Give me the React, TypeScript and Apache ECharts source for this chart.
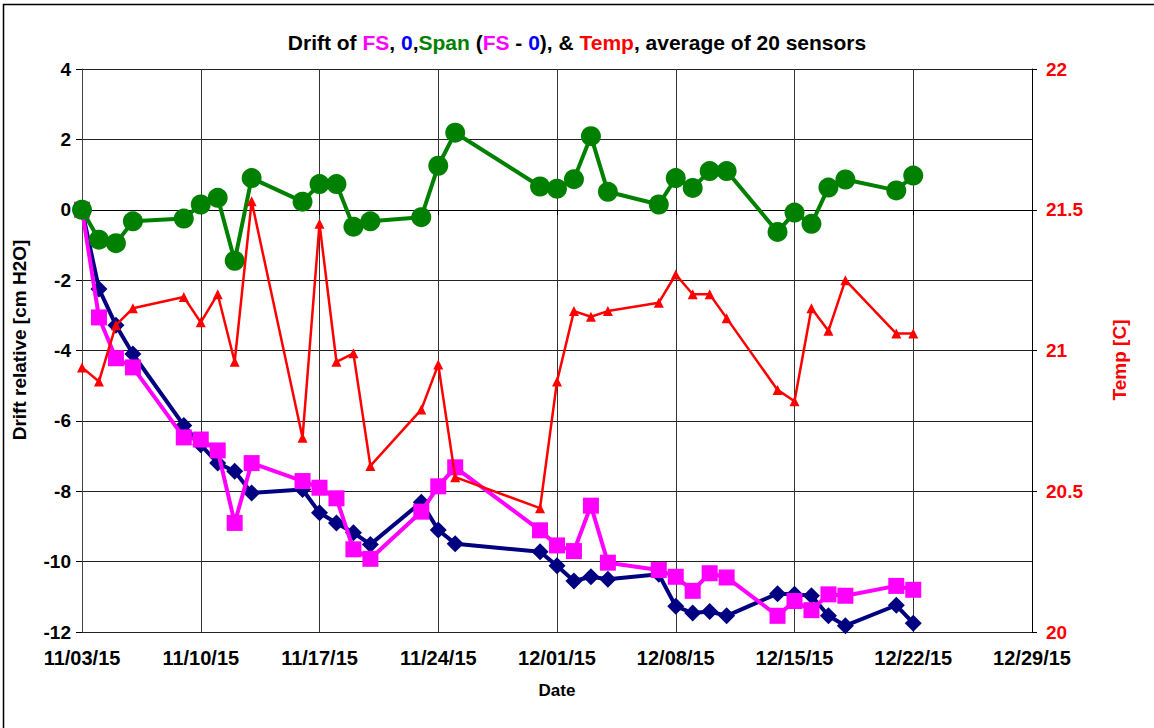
import React, { useEffect, useRef } from "react";
import * as echarts from "echarts";

const dates = [
  "11/03/15", "11/04/15", "11/05/15", "11/06/15", "11/09/15", "11/10/15", "11/11/15", "11/12/15", "11/13/15",
  "11/16/15", "11/17/15", "11/18/15", "11/19/15", "11/20/15", "11/23/15", "11/24/15", "11/25/15",
  "11/30/15", "12/01/15", "12/02/15", "12/03/15", "12/04/15", "12/07/15", "12/08/15", "12/09/15",
  "12/10/15", "12/11/15", "12/14/15", "12/15/15", "12/16/15", "12/17/15", "12/18/15", "12/21/15", "12/22/15",
];

const zeroDrift = [
  0, -2.25, -3.28, -4.1, -6.13, -6.68, -7.2, -7.43, -8.05, -7.95, -8.61, -8.9, -9.18, -9.51, -8.31, -9.1, -9.49,
  -9.72, -10.12, -10.55, -10.43, -10.5, -10.36, -11.27, -11.46, -11.42, -11.54, -10.91, -10.93, -10.97, -11.54,
  -11.82, -11.24, -11.75,
];

const fsDrift = [
  0, -3.06, -4.22, -4.48, -6.47, -6.53, -6.84, -8.9, -7.2, -7.71, -7.9, -8.2, -9.65, -9.92, -8.58, -7.86, -7.32,
  -9.11, -9.54, -9.7, -8.41, -10.03, -10.24, -10.43, -10.83, -10.33, -10.45, -11.54, -11.12, -11.38, -10.93,
  -10.97, -10.69, -10.8,
];

const spanDrift = [
  0, -0.85, -0.95, -0.33, -0.25, 0.15, 0.34, -1.45, 0.9, 0.23, 0.73, 0.73, -0.48, -0.33, -0.21, 1.25, 2.19, 0.66,
  0.6, 0.87, 2.09, 0.51, 0.15, 0.9, 0.62, 1.1, 1.1, -0.63, -0.08, -0.4, 0.63, 0.86, 0.55, 0.97,
];

const temp = [
  20.94, 20.89, 21.09, 21.15, 21.19, 21.1, 21.2, 20.96, 21.53, 20.69, 21.45, 20.96, 20.99, 20.59, 20.79, 20.95,
  20.55, 20.44, 20.89, 21.14, 21.12, 21.14, 21.17, 21.27, 21.2, 21.2, 21.115, 20.86, 20.82, 21.15, 21.07, 21.25,
  21.06, 21.06,
];

const FONT = 'Arial, "Liberation Sans", sans-serif';
const DAY = 86400000;

function parseDate(s: string): number {
  const [m, d, y] = s.split("/").map(Number);
  return Date.UTC(2000 + y, m - 1, d);
}
const base = parseDate(dates[0]);
const dayOf = (s: string) => Math.round((parseDate(s) - base) / DAY);
const pad = (n: number) => (n < 10 ? "0" + n : "" + n);
function fmtDay(v: number): string {
  const d = new Date(base + v * DAY);
  return pad(d.getUTCMonth() + 1) + "/" + pad(d.getUTCDate()) + "/" + pad(d.getUTCFullYear() % 100);
}

const pairs = (vals: number[]) => dates.map((s, i) => [dayOf(s), vals[i]]);

const TS = 21;

export default function App() {
  const ref = useRef<HTMLDivElement>(null);
  useEffect(() => {
    document.body.style.margin = "0";
    const chart = echarts.init(ref.current!, null, { renderer: "svg" });
    const st = (c: string) => ({ color: c, fontFamily: FONT, fontWeight: "bold", fontSize: TS });
    chart.setOption({
      animation: false,
      backgroundColor: "#fff",
      title: {
        left: "center",
        top: 27,
        text:
          "{a|Drift of }{m|FS}{a|, }{b|0}{a|,}{g|Span}{a| (}{m|FS}{a| - }{b|0}{a|), & }{r|Temp}{a|, average of 20 sensors}",
        textStyle: {
          fontFamily: FONT,
          fontWeight: "bold",
          fontSize: TS,
          rich: {
            a: st("#000"),
            m: st("#FF00FF"),
            b: st("#0000FF"),
            g: st("#008000"),
            r: st("#FF0000"),
          },
        },
      },
      graphic: [
        {
          type: "rect",
          shape: { x: 3.5, y: 4.5, width: 1200, height: 800 },
          style: { fill: "none", stroke: "#000", lineWidth: 1.5 },
          silent: true,
        },
        {
          type: "text",
          x: 19,
          y: 340,
          rotation: Math.PI / 2,
          style: {
            text: "Drift relative [cm H2O]",
            align: "center",
            verticalAlign: "middle",
            fontFamily: FONT,
            fontWeight: "bold",
            fontSize: 19,
            fill: "#000",
          },
          silent: true,
        },
        {
          type: "text",
          x: 1119,
          y: 360,
          rotation: Math.PI / 2,
          style: {
            text: "Temp [C]",
            align: "center",
            verticalAlign: "middle",
            fontFamily: FONT,
            fontWeight: "bold",
            fontSize: 19,
            fill: "#FF0000",
          },
          silent: true,
        },
      ],
      grid: { left: 82, right: 122, top: 69, bottom: 96 },
      xAxis: {
        type: "value",
        min: 0,
        max: 56,
        interval: 7,
        name: "Date",
        nameLocation: "middle",
        nameGap: 50,
        nameTextStyle: { fontFamily: FONT, fontWeight: "bold", fontSize: 17, color: "#000" },
        axisLine: { show: true, lineStyle: { color: "#000", width: 1 } },
        axisTick: { show: true, inside: false, length: 5, lineStyle: { color: "#000" } },
        axisLabel: {
          formatter: (v: number) => fmtDay(v),
          fontFamily: FONT,
          fontWeight: "bold",
          fontSize: 20,
          color: "#000",
          margin: 16,
          showMaxLabel: true,
          showMinLabel: true,
        },
        splitLine: { show: true, lineStyle: { color: "#333", width: 1 } },
      },
      yAxis: [
        {
          type: "value",
          min: -12,
          max: 4,
          interval: 2,
          axisLine: { show: true, lineStyle: { color: "#444", width: 1 } },
          axisTick: { show: true, inside: false, length: 6, lineStyle: { color: "#000" } },
          axisLabel: { fontFamily: FONT, fontWeight: "bold", fontSize: 19, color: "#000", margin: 11 },
          splitLine: { show: true, lineStyle: { color: "#222", width: 1 } },
        },
        {
          type: "value",
          min: 20,
          max: 22,
          interval: 0.5,
          position: "right",
          axisLine: { show: true, lineStyle: { color: "#000", width: 1 } },
          axisTick: { show: true, inside: false, length: 5, lineStyle: { color: "#000" } },
          axisLabel: { fontFamily: FONT, fontWeight: "bold", fontSize: 19, color: "#FF0000", margin: 14 },
          splitLine: { show: false },
        },
      ],
      series: [
        {
          name: "0",
          type: "line",
          data: pairs(zeroDrift),
          symbol: "diamond",
          symbolSize: 17,
          itemStyle: { color: "#000080" },
          lineStyle: { color: "#000080", width: 4 },
          z: 2,
        },
        {
          name: "FS",
          type: "line",
          data: pairs(fsDrift),
          symbol: "rect",
          symbolSize: 16,
          itemStyle: { color: "#FF00FF" },
          lineStyle: { color: "#FF00FF", width: 4 },
          z: 3,
        },
        {
          name: "Span",
          type: "line",
          data: pairs(spanDrift),
          symbol: "circle",
          symbolSize: 20,
          itemStyle: { color: "#008000" },
          lineStyle: { color: "#008000", width: 4 },
          z: 4,
        },
        {
          name: "Temp",
          type: "line",
          yAxisIndex: 1,
          data: pairs(temp),
          symbol: "triangle",
          symbolSize: 10,
          itemStyle: { color: "#FF0000" },
          lineStyle: { color: "#FF0000", width: 2.5 },
          z: 5,
        },
      ],
    });
    return () => chart.dispose();
  }, []);
  return <div ref={ref} style={{ width: 1154, height: 728 }} />;
}
